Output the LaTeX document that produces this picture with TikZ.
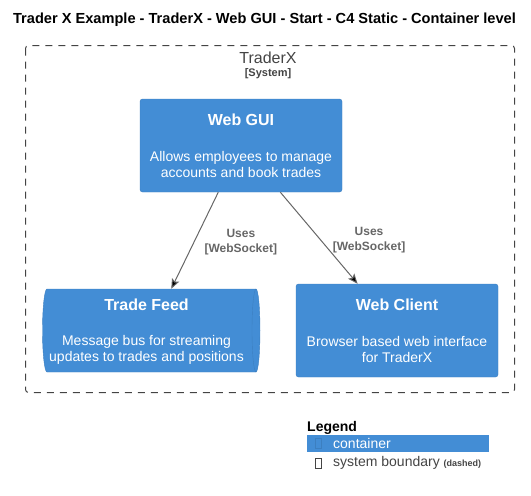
\documentclass[tikz,border=0pt]{standalone}
\usepackage{fontspec}
\setmainfont{Liberation Sans}
\usetikzlibrary{arrows.meta,positioning}
\definecolor{cblue}{HTML}{438DD5}
\definecolor{cline}{HTML}{3C7FC0}
\definecolor{bgray}{HTML}{444444}
\definecolor{rgray}{HTML}{666666}

\begin{document}
\begin{tikzpicture}[x=1pt,y=-1pt,
  cont/.style={fill=cblue,draw=cline,rounded corners=2.5pt,minimum width=202pt,minimum height=93pt,inner sep=0pt},
  ttl/.style={text=white,font=\fontsize{16}{19}\selectfont\bfseries},
  dsc/.style={text=white,align=center,font=\fontsize{14}{16}\selectfont},
  rel/.style={draw=rgray,line width=1pt,-{Stealth[length=10pt,width=8pt,inset=2pt]}},
  lbl/.style={text=rgray,align=center,font=\fontsize{12}{15}\selectfont\bfseries},
  glyph/.style={draw,line width=0.6pt,minimum width=6pt,minimum height=10pt,inner sep=0pt}]
  \useasboundingbox (0,0) rectangle (531,496);
  \node (title) at (264.5,20) {\fontsize{14.6}{17}\selectfont\bfseries Trader X Example - TraderX - Web GUI - Start - C4 Static - Container level};

  % system boundary
  \draw[bgray,line width=1pt,dash pattern=on 7pt off 6pt,rounded corners=3pt] (25.5,45.5) rectangle (514.5,392.5);
  \node[text=bgray,font=\fontsize{16}{19}\selectfont] (sys) at (268,58) {TraderX};
  \node[text=bgray,font=\fontsize{11}{13}\selectfont\bfseries] (syst) at (268,73.5) {[System]};

  % containers
  \node[cont] (gui) at (241,145.5) {};
  \node[ttl] (gui-t) at ([yshift=-21pt]gui.north) {Web GUI};
  \node[dsc] (gui-d) at ([yshift=-66pt]gui.north) {Allows employees to manage\\accounts and book trades};

  \node[cont] (wc) at (397,330.5) {};
  \node[ttl] (wc-t) at ([yshift=-21pt]wc.north) {Web Client};
  \node[dsc] (wc-d) at ([yshift=-66pt]wc.north) {Browser based web interface\\for TraderX};

  % queue
  \filldraw[fill=cblue,draw=cline] (47,289) -- (256,289)
    arc[start angle=-90,end angle=90,x radius=4,y radius=41.5] -- (47,372)
    arc[start angle=90,end angle=270,x radius=4.5,y radius=41.5] -- cycle;
  \draw[cline] (256,289) arc[start angle=-90,end angle=-270,x radius=4,y radius=41.5];
  \node[inner sep=0pt,minimum width=217pt,minimum height=83pt] (tf) at (151,330.5) {};
  \node[ttl] (tf-t) at ([xshift=-4.5pt,yshift=-16pt]tf.north) {Trade Feed};
  \node[dsc] (tf-d) at ([xshift=-4.5pt,yshift=-61pt]tf.north) {Message bus for streaming\\updates to trades and positions};

  \path[rel]
  (gui) edge node[lbl,midway,anchor=west,xshift=6pt,yshift=-2pt] {Uses\\{}[WebSocket]} (tf)
        edge node[lbl,midway,anchor=west,xshift=10pt,yshift=-2pt] {Uses\\{}[WebSocket]} (wc)
  ;

  % legend
  \node[anchor=west,font=\fontsize{14}{16}\selectfont\bfseries,inner sep=0pt] (leg) at (307,428) {Legend};
  \fill[cblue] (307,435) rectangle (489,452);
  \node[glyph,draw=cline] (g1) at (318.5,443.5) {};
  \node[anchor=west,text=white,font=\fontsize{14}{16}\selectfont,inner sep=0pt] (l1) at (333,443.5) {container};
  \node[glyph,draw=bgray] (g2) at (318.5,463) {};
  \node[anchor=west,text=bgray,font=\fontsize{14}{16}\selectfont,inner sep=0pt] (l2) at (333,463) {system boundary {\fontsize{9}{10}\selectfont\bfseries(dashed)}};
\end{tikzpicture}
\end{document}
